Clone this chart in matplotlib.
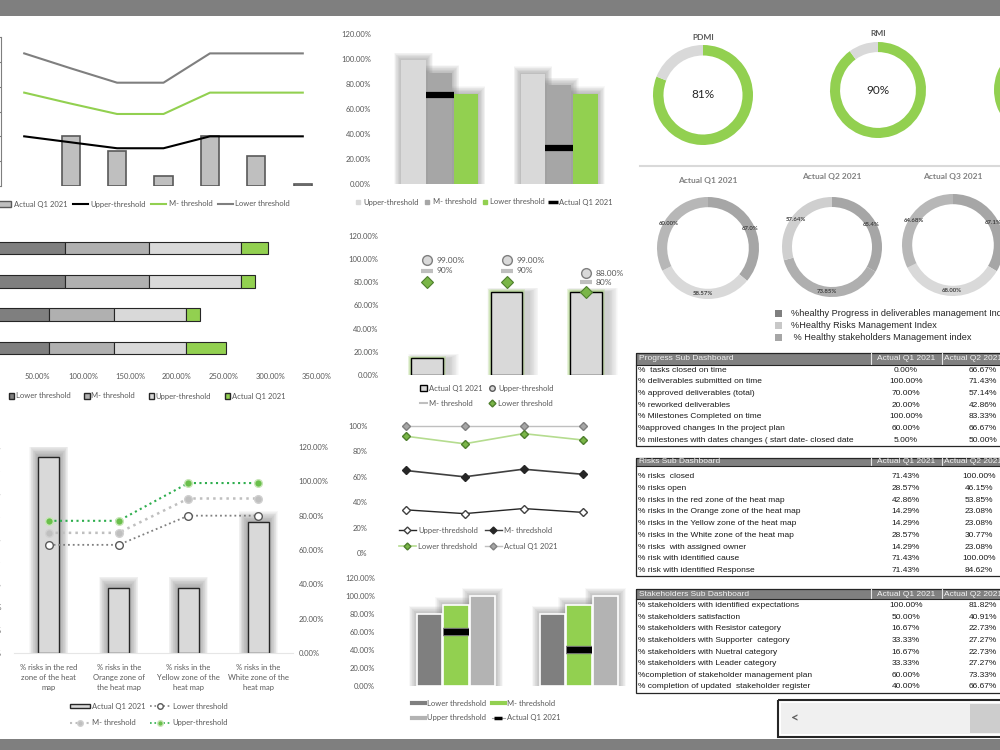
import matplotlib
matplotlib.use("Agg")
import matplotlib.pyplot as plt
from matplotlib.lines import Line2D
from matplotlib.patches import Patch, Rectangle

plt.rcParams['font.family'] = ['Lato', 'DejaVu Sans']

W, H = 1000, 750
GREEN = '#92d050'
LIGHT = '#d9d9d9'
MID = '#a6a6a6'
DARK = '#7f7f7f'
TXT = '#595959'

# progress KPIs (bars) and stacked threshold lines
prog_actual = [0, 100, 70, 20, 100, 60, 5]
prog_upper = [100, 88, 76, 76, 100, 100, 100]
prog_mid = [88, 78, 69, 69, 88, 88, 88]
prog_lower = [79, 71, 63, 63, 79, 79, 79]

# risks closed / open
risk_upper = [99, 88]
risk_mid = [89, 79]
risk_lower = [72, 72]
risk_actual = [71.43, 28.57]

# gauges
gauge_names = ['PDMI', 'RMI', 'SMI']
gauge_values = [81, 90, 86]

# quarterly health donuts
quarters = ['Actual Q1 2021', 'Actual Q2 2021', 'Actual Q3 2021']
q_values = [[67.0, 58.57, 60.00], [65.4, 73.85, 57.64], [67.1, 68.00, 64.68]]
q_labels = [['67.0%', '58.57%', '60.00%'], ['65.4%', '73.85%', '57.64%'],
            ['67.1%', '68.00%', '64.68%']]
q_colors = [['#a6a6a6', '#d9d9d9', '#b7b7b7'], ['#a6a6a6', '#afafaf', '#cfcfcf'],
            ['#a6a6a6', '#d9d9d9', '#b7b7b7']]
index_names = ['%healthy Progress in deliverables management Index',
               '%Healthy Risks Management Index',
               ' % Healthy stakeholders Management index']
index_colors = ['#7f7f7f', '#c8c8c8', '#a6a6a6']

# KPI bars with threshold markers
kpi_actual = [14.29, 71.43, 71.43]
kpi_upper = [99, 99, 88]
kpi_mid = [90, 90, 80]
kpi_lower = [80, 80, 72]

# trend lines
trend_upper = [34, 31, 35, 32]
trend_mid = [65, 60, 66, 62]
trend_lower = [92, 86, 94, 89]
trend_actual = [100, 100, 100, 100]

# heat map zones
zones = ['% risks in the red\nzone of the heat\nmap', '% risks in the\nOrange zone of\nthe heat map',
         '% risks in the\nYellow zone of the\nheat map', '% risks in the\nWhite zone of the\nheat map']
zone_actual = [42.86, 14.29, 14.29, 28.57]
zone_upper = [77, 77, 99, 99]
zone_mid = [70, 70, 90, 90]
zone_lower = [63, 63, 80, 80]

# stakeholder plan / register
plan_lower = [80, 80]
plan_mid = [90, 90]
plan_upper = [100, 100]
plan_actual = [60, 40]

# tables
progress_rows = ['%  tasks closed on time', '% deliverables submitted on time',
                 '% approved deliverables (total)', '% reworked deliverables',
                 '% Milestones Completed on time', '%approved changes In the project plan',
                 '% milestones with dates changes ( start date- closed date']
progress_q1 = ['0.00%', '100.00%', '70.00%', '20.00%', '100.00%', '60.00%', '5.00%']
progress_q2 = ['66.67%', '71.43%', '57.14%', '42.86%', '83.33%', '66.67%', '50.00%']
risk_rows = ['% risks  closed', '% risks open', '% risks in the red zone of the heat map',
             '% risks in the Orange zone of the heat map', '% risks in the Yellow zone of the heat map',
             '% risks in the White zone of the heat map', '% risks  with assigned owner',
             '% risk with identified cause', '% risk with identified Response']
risk_q1 = ['71.43%', '28.57%', '42.86%', '14.29%', '14.29%', '28.57%', '14.29%', '71.43%', '71.43%']
risk_q2 = ['100.00%', '46.15%', '53.85%', '23.08%', '23.08%', '30.77%', '23.08%', '100.00%', '84.62%']
stake_rows = ['% stakeholders with identified expectations', '% stakeholders satisfaction',
              '% stakeholders with Resistor category', '% stakeholders with Supporter  category',
              '% stakeholders with Nuetral category', '% stakeholders with Leader category',
              '%completion of stakeholder management plan', '% completion of updated  stakeholder register']
stake_q1 = ['100.00%', '50.00%', '16.67%', '33.33%', '16.67%', '33.33%', '60.00%', '40.00%']
stake_q2 = ['81.82%', '40.91%', '22.73%', '27.27%', '22.73%', '27.27%', '73.33%', '66.67%']

fig = plt.figure(figsize=(10, 7.5), dpi=100)
ov = fig.add_axes([0, 0, 1, 1])
ov.set_xlim(0, W)
ov.set_ylim(H, 0)
ov.axis('off')


def box(x0, y0, x1, y1):
    ax = fig.add_axes([x0 / W, 1 - y1 / H, (x1 - x0) / W, (y1 - y0) / H])
    ax.patch.set_alpha(0)
    for s in ax.spines.values():
        s.set_visible(False)
    ax.tick_params(length=0, labelsize=5.5, labelcolor=TXT)
    return ax


def glow(ax, xs, hs, w, dx, dy, color='#7f7f7f', n=12, alpha=0.05, shift=0.0):
    # soft shadow: stacked translucent bars, widest first
    for k in range(n, 0, -1):
        f = k / n
        ax.bar([x + shift for x in xs], [h + dy * f for h in hs], width=w + 2 * dx * f,
               color=color, alpha=alpha, lw=0, zorder=1)


def pct_ticks(ax, ticks, fmt='{:.2f}%', axis='y'):
    if axis == 'y':
        ax.set_yticks(ticks)
        ax.set_yticklabels([fmt.format(t) for t in ticks])
    else:
        ax.set_xticks(ticks)
        ax.set_xticklabels([fmt.format(t) for t in ticks])


def legend(handles, labels, x, y, ncol, **kw):
    opts = dict(loc='center left', bbox_to_anchor=(x / W, 1 - y / H), ncol=ncol, frameon=False,
                fontsize=5.5, labelcolor=TXT, handlelength=1.8, handletextpad=0.3,
                columnspacing=1.0, borderpad=0, borderaxespad=0)
    opts.update(kw)
    fig.legend(handles, labels, **opts)


# page frame bars
ov.add_patch(Rectangle((0, 0), W, 16, color='#7f7f7f', lw=0))
ov.add_patch(Rectangle((0, 739), W, 11, color='#7f7f7f', lw=0))

# ---- panel A: progress KPIs ----
ax = box(1, 37, 326, 186)
xa = list(range(len(prog_actual)))
ax.bar(xa, prog_actual, width=0.39, color='#bfbfbf', edgecolor='#595959',
       lw=[1.2 if v else 0 for v in prog_actual], zorder=2)
c1 = prog_upper
c2 = [a + b for a, b in zip(c1, prog_mid)]
c3 = [a + b for a, b in zip(c2, prog_lower)]
ax.plot(xa, c1, color='black', lw=1.5, zorder=3)
ax.plot(xa, c2, color=GREEN, lw=1.5, zorder=3)
ax.plot(xa, c3, color='#7f7f7f', lw=1.5, zorder=3)
ax.set_xlim(-0.5, 6.5)
ax.set_ylim(0, 300)
pct_ticks(ax, range(0, 301, 50))
ax.set_xticks([])
ax.spines['left'].set_visible(True)
ax.spines['left'].set_color('#7f7f7f')
ax.tick_params(axis='y', length=3, color='#7f7f7f')
legend([Patch(fc='#bfbfbf', ec='#595959'), Line2D([], [], color='black', lw=1.5),
        Line2D([], [], color=GREEN, lw=1.5), Line2D([], [], color='#7f7f7f', lw=1.5)],
       ['Actual Q1 2021', 'Upper-threshold', 'M- threshold', 'Lower threshold'], -4, 204, 4,
       handlelength=2.0, columnspacing=0.7)

# ---- panel B: risks closed / open ----
ax = box(380, 34, 619, 184)
xb = [0, 1]
off, bw = 0.22, 0.205
series_b = [(-off, risk_upper, LIGHT), (0, risk_mid, MID), (off, risk_lower, GREEN)]
for shift, vals, col in series_b:
    glow(ax, [x + shift for x in xb], vals, bw, 0.06, 6)
for shift, vals, col in series_b:
    ax.bar([x + shift for x in xb], vals, width=bw, color=col, lw=0, zorder=2)
ax.plot(xb, risk_actual, ls='none', marker='_', ms=20, mew=4.5, color='black', zorder=3)
ax.set_xlim(-0.5, 1.5)
ax.set_ylim(0, 120)
pct_ticks(ax, range(0, 121, 20))
ax.set_xticks([])
ax.tick_params(axis='y', pad=6.5)
legend([Line2D([], [], ls='none', marker='s', ms=3, color=LIGHT),
        Line2D([], [], ls='none', marker='s', ms=3, color=MID),
        Line2D([], [], ls='none', marker='s', ms=3, color=GREEN),
        Line2D([], [], ls='none', marker='_', ms=7, mew=2.5, color='black')],
       ['Upper-threshold', 'M- threshold', 'Lower threshold', 'Actual Q1 2021'], 355, 202, 4,
       handlelength=0.8, columnspacing=0.7)

# ---- panel C: gauges and quarterly donuts ----
gauge_pos = [(703, 95, 50), (878, 90, 48), (1042, 90, 48)]
for name, val, (cx, cy, r) in zip(gauge_names, gauge_values, gauge_pos):
    ax = box(cx - r, cy - r, cx + r, cy + r)
    ax.pie([val, 100 - val], colors=[GREEN, LIGHT], startangle=90, counterclock=False,
           radius=1, wedgeprops=dict(width=0.21, lw=0))
    ax.set_xlim(-1, 1)
    ax.set_ylim(-1, 1)
    ax.axis('off')
    ax.text(0, 0, f'{val}%', ha='center', va='center', fontsize=8.5, color='#262626')
    ov.text(cx, cy - r - 8, name, ha='center', va='center', fontsize=6, color=TXT,
            fontweight='bold')
ov.plot([640, 1000], [166, 166], color=LIGHT, lw=1.5)

q_pos = [(708, 248, 51), (832, 247, 50), (953, 245, 51)]
q_title_y = [181, 176, 177]
for qt, vals, labs, cols, (cx, cy, r), ty in zip(quarters, q_values, q_labels, q_colors, q_pos, q_title_y):
    ax = box(cx - r, cy - r, cx + r, cy + r)
    wedges, texts = ax.pie(vals, colors=cols, startangle=90, counterclock=False, radius=1,
                           labels=labs, labeldistance=0.9,
                           wedgeprops=dict(width=0.2, lw=0),
                           textprops=dict(fontsize=4.3, fontweight='bold', color='#404040'))
    for t in texts:
        t.set_ha('center')
        t.set_va('center')
    ax.set_xlim(-1, 1)
    ax.set_ylim(-1, 1)
    ax.axis('off')
    ov.text(cx, ty, qt, ha='center', va='center', fontsize=6, color='#808080', fontweight='bold')

for i, (name, col) in enumerate(zip(index_names, index_colors)):
    y = 313 + 12 * i
    ov.add_patch(Rectangle((775, y - 3.5), 7, 7, color=col, lw=0))
    ov.text(791, y, name, ha='left', va='center', fontsize=6.6, color='#262626',
            family=['Liberation Sans', 'DejaVu Sans'])

# ---- panel G: heat-map zones horizontal ----
ax = box(-9.7, 231.3, 317, 364.7)
yg = list(range(len(zones)))
left = [0] * 4
for vals, col in [(zone_lower, '#7f7f7f'), (zone_mid, '#b0b0b0'), (zone_upper, LIGHT),
                  (zone_actual, GREEN)]:
    ax.barh(yg, vals, left=left, height=0.38, color=col, edgecolor='#262626', lw=0.8, zorder=2)
    left = [a + b for a, b in zip(left, vals)]
ax.set_ylim(-0.5, 3.5)
ax.set_xlim(0, 350)
pct_ticks(ax, range(0, 351, 50), axis='x')
ax.set_yticks([])
ax.tick_params(axis='x', pad=6)
legend([Patch(fc='#7f7f7f', ec='#262626'), Patch(fc='#b0b0b0', ec='#262626'),
        Patch(fc=LIGHT, ec='#262626'), Patch(fc=GREEN, ec='#262626')],
       ['Lower threshold', 'M- threshold', 'Upper-threshold', 'Actual Q1 2021'], 9, 396, 4,
       handlelength=0.7, handleheight=0.7, columnspacing=1.8, handletextpad=0.2)

# ---- panel D: KPI bars with markers ----
ax = box(387, 236, 626, 375)
xd = list(range(len(kpi_actual)))
glow(ax, xd, kpi_actual, 0.4, 0.12, 4, shift=0.08, alpha=0.035)
glow(ax, xd, kpi_actual, 0.4, 0.035, 2.5, color=GREEN, n=3, alpha=0.18)
ax.bar(xd, kpi_actual, width=0.4, color=LIGHT, edgecolor='black', lw=1, zorder=2)
ax.plot(xd, kpi_upper, ls='none', marker='o', ms=7, mfc=LIGHT, mec='#7f7f7f', mew=1, zorder=4)
ax.plot(xd, kpi_mid, ls='none', marker='_', ms=9, mew=3, color='#bfbfbf', zorder=4)
ax.plot(xd, kpi_lower, ls='none', marker='D', ms=6, mfc='#7ab648', mec='#4e7f2d', mew=0.8, zorder=5)
for x, u, m in zip(xd, kpi_upper, kpi_mid):
    ax.annotate(f'{u:.2f}%', (x, u), xytext=(7, 0), textcoords='offset points', fontsize=6,
                color=TXT, va='center')
    ax.annotate(f'{m}%', (x, m), xytext=(7, 0), textcoords='offset points', fontsize=6,
                color=TXT, va='center')
ax.set_xlim(-0.5, 2.5)
ax.set_ylim(0, 120)
pct_ticks(ax, range(0, 121, 20))
ax.set_xticks([])
ax.tick_params(axis='y', pad=6)
legend([Patch(fc=LIGHT, ec='black'), Line2D([], [], color='#bfbfbf', lw=1.5),
        Line2D([], [], ls='none', marker='o', ms=4, mfc=LIGHT, mec='#595959'),
        Line2D([], [], ls='none', marker='D', ms=3.5, mfc='#7ab648', mec='#4e7f2d')],
       ['Actual Q1 2021', 'M- threshold', 'Upper-threshold', 'Lower threshold'], 420, 396, 2,
       handlelength=0.9, handleheight=0.8, labelspacing=1.1, columnspacing=0.8)

# ---- panel F: trend lines ----
ax = box(376, 426, 612, 553)
xf = list(range(len(trend_upper)))
ax.plot(xf, trend_actual, color='#bfbfbf', lw=1, marker='D', ms=4.5, mfc='#a6a6a6', mec='#7f7f7f',
        zorder=3, clip_on=False)
ax.plot(xf, trend_lower, color='#b5dc8f', lw=1.2, marker='D', ms=4.5, mfc='#7ab648', mec='#4e7f2d',
        zorder=3)
ax.plot(xf, trend_mid, color='#404040', lw=1.2, marker='D', ms=4.5, mfc='#262626', mec='#262626',
        zorder=3)
ax.plot(xf, trend_upper, color='#262626', lw=1, marker='D', ms=4.5, mfc='white', mec='#404040',
        zorder=3)
ax.set_xlim(-0.5, 3.5)
ax.set_ylim(0, 100)
pct_ticks(ax, range(0, 101, 20), fmt='{:.0f}%')
ax.set_xticks([])
ax.tick_params(axis='y', pad=6)
legend([Line2D([], [], color='#262626', lw=1, marker='D', ms=3.5, mfc='white', mec='#404040'),
        Line2D([], [], color='#b5dc8f', lw=1.2, marker='D', ms=3.5, mfc='#7ab648', mec='#4e7f2d'),
        Line2D([], [], color='#404040', lw=1, marker='D', ms=3.5, mfc='#262626', mec='#262626'),
        Line2D([], [], color='#bfbfbf', lw=1, marker='D', ms=3.5, mfc='#a6a6a6', mec='#7f7f7f')],
       ['Upper-thredshold', 'Lower thredshold', 'M- thredshold', 'Actual Q1 2021'], 399, 538.5, 2,
       handlelength=2.2, labelspacing=1.2, columnspacing=0.9)

# ---- panel E: heat-map zones combo ----
ax = box(14, 447, 293, 653)
xe = list(range(len(zones)))
glow(ax, xe, zone_actual, 0.3, 0.13, 2.4, n=14, alpha=0.06)
ax.bar(xe, zone_actual, width=0.3, color=LIGHT, edgecolor='#262626', lw=1, zorder=2)
ax.set_xlim(-0.5, 3.5)
ax.set_ylim(0, 45)
pct_ticks(ax, range(0, 46, 5))
ax.tick_params(axis='y', pad=9)
ax.set_xticks(xe)
ax.set_xticklabels(zones, fontsize=5.5, linespacing=1.5)
ax.tick_params(axis='x', pad=8)
ax.spines['bottom'].set_visible(True)
ax.spines['bottom'].set_color('#e6e6e6')
ax2 = ax.twinx()
for s in ax2.spines.values():
    s.set_visible(False)
ax2.plot(xe, zone_lower, color='#7f7f7f', ls=':', lw=1.3, marker='o', ms=5.5, mfc='white',
         mec='#595959', zorder=3)
ax2.plot(xe, zone_mid, color='#bfbfbf', ls=':', lw=1.8, marker='o', ms=5.5, mfc='#bfbfbf',
         mec='#d0d0d0', zorder=3)
ax2.plot(xe, zone_upper, color='#2eae4e', ls=':', lw=1.5, marker='o', ms=5.5, mfc='#6abf4b',
         mec='#c8e6b8', zorder=4)
ax2.set_ylim(0, 120)
pct_ticks(ax2, range(0, 121, 20))
ax2.tick_params(length=0, labelsize=5.5, labelcolor=TXT, pad=4)
legend([Patch(fc=LIGHT, ec='#262626'),
        Line2D([], [], color='#bfbfbf', ls=':', lw=1.5, marker='o', ms=4, mfc='#bfbfbf', mec='#d0d0d0'),
        Line2D([], [], color='#7f7f7f', ls=':', lw=1.2, marker='o', ms=4, mfc='white', mec='#595959'),
        Line2D([], [], color='#2eae4e', ls=':', lw=1.2, marker='o', ms=4, mfc='#6abf4b', mec='#c8e6b8')],
       ['Actual Q1 2021', 'M- threshold', 'Lower threshold', 'Upper-threshold'], 70, 714.5, 2,
       handlelength=2.6, handleheight=0.5, labelspacing=1.2, columnspacing=0.6)

# ---- panel H: stakeholder plan / register ----
ax = box(394.5, 578, 640.5, 686)
xh = [0, 1]
off, bw = 0.215, 0.205
series_h = [(-off, plan_lower, '#7f7f7f'), (0, plan_mid, GREEN), (off, plan_upper, '#b3b3b3')]
for shift, vals, col in series_h:
    glow(ax, [x + shift for x in xh], vals, bw, 0.065, 9)
for shift, vals, col in series_h:
    ax.bar([x + shift for x in xh], vals, width=bw, color=col, edgecolor='white', lw=1.2, zorder=2)
ax.plot(xh, plan_actual, ls='none', marker='_', ms=18, mew=4.5, color='black', zorder=4)
ax.plot(xh, plan_actual, ls='none', marker='_', ms=19, mew=6, color='#7f7f7f', zorder=3)
ax.set_xlim(-0.5, 1.5)
ax.set_ylim(0, 120)
pct_ticks(ax, range(0, 121, 20))
ax.set_xticks([])
ax.tick_params(axis='y', pad=14)
legend([Line2D([], [], color='#7f7f7f', lw=3), Line2D([], [], color='#b3b3b3', lw=3),
        Line2D([], [], color=GREEN, lw=3),
        Line2D([], [], color='#a6a6a6', lw=0.8, marker='_', ms=6, mew=2.5, mec='black')],
       ['Lower thredshold', 'Upper thredshold', 'M- thredshold', 'Actual Q1 2021'], 412, 710.5, 2,
       handlelength=1.7, labelspacing=1.0, columnspacing=0.7)

# ---- tables ----
TFONT = ['Liberation Sans', 'DejaVu Sans']


def draw_table(top, hdr_bot, first_y, step, bottom, title, rows, q1, q2, q2x, q2ha):
    x0, x1, xa, xb = 636, 1040, 871, 942
    ov.add_patch(Rectangle((x0, top), x1 - x0, hdr_bot - top, color='#808080', lw=0))
    for xv in (xa, xb):
        ov.plot([xv, xv], [top, hdr_bot], color='#e6e6e6', lw=0.8)
    ov.add_patch(Rectangle((x0, top), x1 - x0, bottom - top, fill=False, ec='#262626', lw=0.9))
    ov.plot([x0, x1], [hdr_bot, hdr_bot], color='#262626', lw=0.8)
    hc = (top + hdr_bot) / 2
    ov.text(x0 + 3, hc, title, fontsize=6, color='#f2f2f2', va='center', family=TFONT)
    ov.text((xa + xb) / 2, hc, 'Actual Q1 2021', fontsize=6, color='#f2f2f2', va='center',
            ha='center', family=TFONT)
    ov.text(xb + 2, hc, 'Actual Q2 2021', fontsize=6, color='#f2f2f2', va='center', family=TFONT)
    clip = Rectangle((x0, top), xa - x0 - 1, bottom - top, transform=ov.transData)
    for i, (r, a, b) in enumerate(zip(rows, q1, q2)):
        y = first_y + step * i
        t = ov.text(x0 + 2, y, r, fontsize=6, color='#1a1a1a', va='center', family=TFONT)
        t.set_clip_path(clip)
        ov.text(906, y, a, fontsize=6, color='#1a1a1a', va='center', ha='center', family=TFONT)
        ov.text(q2x, y, b, fontsize=6, color='#1a1a1a', va='center', ha=q2ha, family=TFONT)


draw_table(353, 364.5, 370.3, 11.67, 446, 'Progress Sub Dashboard', progress_rows,
           progress_q1, progress_q2, 997, 'right')
draw_table(457.7, 465.7, 476.7, 11.75, 575.7, 'Risks Sub Dashboard', risk_rows,
           risk_q1, risk_q2, 979, 'center')
draw_table(589, 599, 605.7, 11.6, 692.7, 'Stakeholders Sub Dashboard', stake_rows,
           stake_q1, stake_q2, 997, 'right')

# scroll bar
ov.add_patch(Rectangle((778, 700), 240, 37, fill=False, ec='#262626', lw=1.5))
ov.add_patch(Rectangle((781, 703), 240, 31, color='#f0f0f0', lw=0))
ov.add_patch(Rectangle((970, 704), 40, 29, color='#cdcdcd', lw=0))
ov.text(795, 718.5, '<', fontsize=10, color='#606060', ha='center', va='center', fontweight='bold')

fig.savefig('out.png', dpi=100)
